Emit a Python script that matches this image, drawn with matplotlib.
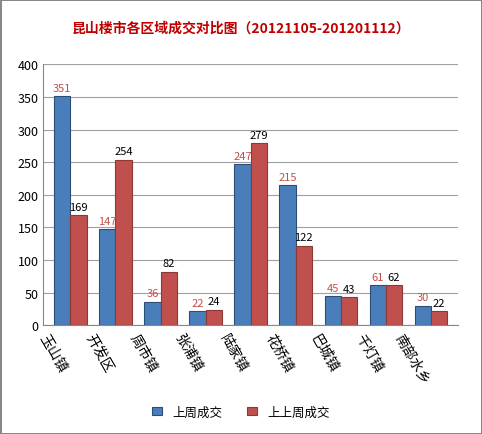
import matplotlib
matplotlib.use("Agg")
import matplotlib.pyplot as plt
import numpy as np

plt.rcParams['font.family'] = ['Noto Sans CJK SC', 'DejaVu Sans']

categories = ['玉山镇', '开发区', '周市镇', '张浦镇', '陆家镇', '花桥镇', '巴城镇', '千灯镇', '南部水乡']
last_week = [351, 147, 36, 22, 247, 215, 45, 61, 30]
prev_week = [169, 254, 82, 24, 279, 122, 43, 62, 22]

fig = plt.figure(figsize=(4.82, 4.35), dpi=100)
ax = fig.add_axes([0.09, 0.25, 0.86, 0.60])
x = np.arange(len(categories))
w = 0.36
b1 = ax.bar(x - w/2, last_week, w, color='#4a7ebb', edgecolor='#2c4d75', linewidth=0.8, label='上周成交')
b2 = ax.bar(x + w/2, prev_week, w, color='#c0504d', edgecolor='#8c3836', linewidth=0.8, label='上上周成交')
for xi, v in zip(x, last_week):
    ax.text(xi - w/2, v + 5, str(v), ha='center', va='bottom', fontsize=8, color='#c0504d')
for xi, v in zip(x, prev_week):
    ax.text(xi + w/2, v + 5, str(v), ha='center', va='bottom', fontsize=8, color='black')
ax.set_ylim(0, 400)
ax.set_yticks(range(0, 401, 50))
ax.set_xlim(-0.6, len(categories) - 0.4)
ax.set_xticks(x)
ax.set_xticklabels(categories, rotation=-60, ha='right', va='top', fontsize=10)
ax.tick_params(axis='both', labelsize=9, length=0)
ax.tick_params(axis='x', labelsize=10, pad=4)
ax.grid(axis='y', color='#a0a0a0', linewidth=0.8)
ax.set_axisbelow(True)
for s in ['top', 'right']:
    ax.spines[s].set_visible(False)
ax.spines['left'].set_color('#888888')
ax.spines['bottom'].set_color('#888888')
fig.text(0.5, 0.935, '昆山楼市各区域成交对比图（20121105-201201112）', ha='center', va='center',
         fontsize=10, color='#c00000', fontweight='bold')
fig.legend(handles=[b1, b2], loc='lower center', ncol=2, frameon=False, fontsize=9,
           bbox_to_anchor=(0.5, 0.01), handlelength=0.8)
fig.patch.set_edgecolor('#888888')
fig.patch.set_linewidth(1)
fig.savefig('out.png', dpi=100)
